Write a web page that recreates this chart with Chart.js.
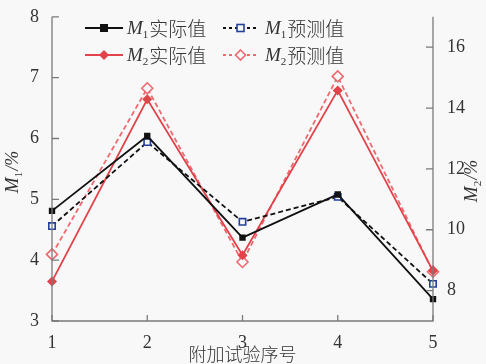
<!DOCTYPE html>
<html>
<head>
<meta charset="utf-8">
<script src="https://cdn.jsdelivr.net/npm/chart.js@4"></script>
<style>
  body { margin: 0; background: #f8f8f8; }
  #box { width: 486px; height: 364px; }
</style>
</head>
<body>
<div id="box"><canvas id="myChart"></canvas></div>
<script>
// data
const trials = ['1', '2', '3', '4', '5'];
const m1Actual = [4.81, 6.04, 4.37, 5.08, 3.36];
const m1Pred = [4.56, 5.94, 4.63, 5.04, 3.61];
const m2Actual = [8.30, 14.29, 9.16, 14.58, 8.65];
const m2Pred = [9.19, 14.65, 8.94, 15.04, 8.62];
const leftTicks = [3, 4, 5, 6, 7, 8];
const rightTicks = [8, 10, 12, 14, 16];

const serif = "'Times New Roman', 'Liberation Serif', 'DejaVu Serif', serif";
const cjk = "'Noto Sans CJK SC', sans-serif";
const axisColor = '#7a7a7a';
const red = '#e2434b';
const redLight = '#ee6a70';

// label like  M_1实际值  (italic M, small subscript)
function drawLabel(ctx, x, y, sub, rest) {
    ctx.textBaseline = 'middle';
    ctx.textAlign = 'left';
    ctx.fillStyle = '#333';
    ctx.font = 'italic 19px ' + serif;
    ctx.fillText('M', x, y);
    x += ctx.measureText('M').width;
    ctx.font = '11px ' + serif;
    ctx.fillText(sub, x, y + 6);
    x += ctx.measureText(sub).width + 1;
    if (rest === '/%') {
        ctx.font = 'italic 18px ' + serif;
    } else {
        ctx.font = '300 19px ' + cjk;
    }
    ctx.fillText(rest, x, y);
}

function labelWidth(ctx, sub, rest) {
    ctx.font = 'italic 19px ' + serif;
    let w = ctx.measureText('M').width;
    ctx.font = '11px ' + serif;
    w += ctx.measureText(sub).width + 1;
    ctx.font = 'italic 18px ' + serif;
    w += ctx.measureText(rest).width;
    return w;
}

function drawMarker(ctx, type, x, y) {
    ctx.save();
    ctx.setLineDash([]);
    if (type === 'sq') {
        ctx.fillStyle = '#111';
        ctx.fillRect(x - 4, y - 4, 8, 8);
    } else if (type === 'sqo') {
        ctx.fillStyle = '#f8f8f8';
        ctx.fillRect(x - 3.5, y - 3.5, 7, 7);
        ctx.strokeStyle = '#23409a';
        ctx.lineWidth = 1.6;
        ctx.strokeRect(x - 3.5, y - 3.5, 7, 7);
    } else {
        ctx.beginPath();
        ctx.moveTo(x, y - 5);
        ctx.lineTo(x + 5, y);
        ctx.lineTo(x, y + 5);
        ctx.lineTo(x - 5, y);
        ctx.closePath();
        if (type === 'dia') {
            ctx.fillStyle = red;
            ctx.fill();
        } else {
            ctx.fillStyle = '#f8f8f8';
            ctx.fill();
            ctx.strokeStyle = redLight;
            ctx.lineWidth = 1.6;
            ctx.stroke();
        }
    }
    ctx.restore();
}

const decor = {
    id: 'decor',
    afterDraw(chart) {
        const ctx = chart.ctx;
        const area = chart.chartArea;
        const xs = chart.scales.x;
        const yl = chart.scales.y;
        const yr = chart.scales.y2;
        ctx.save();

        // axis lines
        ctx.strokeStyle = axisColor;
        ctx.lineWidth = 1.3;
        ctx.beginPath();
        ctx.moveTo(area.left, area.top);
        ctx.lineTo(area.left, area.bottom);
        ctx.lineTo(area.right, area.bottom);
        ctx.lineTo(area.right, area.top);
        ctx.stroke();

        // inward tick marks
        ctx.beginPath();
        trials.forEach((t, i) => {
            const px = xs.getPixelForValue(i);
            ctx.moveTo(px, area.bottom);
            ctx.lineTo(px, area.bottom - 6);
        });
        leftTicks.forEach(v => {
            const py = yl.getPixelForValue(v);
            ctx.moveTo(area.left, py);
            ctx.lineTo(area.left + 7, py);
        });
        rightTicks.forEach(v => {
            const py = yr.getPixelForValue(v);
            ctx.moveTo(area.right, py);
            ctx.lineTo(area.right - 7, py);
        });
        ctx.stroke();

        // legend
        const rows = [
            { y: 28, x0: 85, x1: 123, text: 127, sub: '1', rest: '实际值', color: '#111', dash: [], mk: 'sq' },
            { y: 28, x0: 223, x1: 258, text: 265, sub: '1', rest: '预测值', color: '#111', dash: [3, 3], mk: 'sqo' },
            { y: 55, x0: 85, x1: 123, text: 127, sub: '2', rest: '实际值', color: red, dash: [], mk: 'dia' },
            { y: 55, x0: 223, x1: 258, text: 265, sub: '2', rest: '预测值', color: redLight, dash: [3, 3], mk: 'diao' }
        ];
        rows.forEach(r => {
            ctx.strokeStyle = r.color;
            ctx.lineWidth = 1.8;
            ctx.setLineDash(r.dash);
            ctx.beginPath();
            ctx.moveTo(r.x0, r.y);
            ctx.lineTo(r.x1, r.y);
            ctx.stroke();
            ctx.setLineDash([]);
            drawMarker(ctx, r.mk, (r.x0 + r.x1) / 2, r.y);
            drawLabel(ctx, r.text, r.y + 1, r.sub, r.rest);
        });

        // axis titles
        [[16, 172, '1'], [475, 181, '2']].forEach(t => {
            ctx.save();
            ctx.translate(t[0], t[1]);
            ctx.rotate(-Math.PI / 2);
            const w = labelWidth(ctx, t[2], '/%');
            drawLabel(ctx, -w / 2, -3, t[2], '/%');
            ctx.restore();
        });

        ctx.fillStyle = '#333';
        ctx.font = '300 18px ' + cjk;
        ctx.textAlign = 'center';
        ctx.textBaseline = 'middle';
        ctx.fillText('附加试验序号', (area.left + area.right) / 2, 354);
        ctx.restore();
    }
};

new Chart(document.getElementById('myChart'), {
    type: 'line',
    data: {
        labels: trials,
        datasets: [
            {
                label: 'M1实际值', data: m1Actual, yAxisID: 'y',
                borderColor: '#111', backgroundColor: '#111', borderWidth: 1.8,
                pointStyle: 'rect', pointRadius: 4.5, pointBorderWidth: 0
            },
            {
                label: 'M1预测值', data: m1Pred, yAxisID: 'y',
                borderColor: '#111', borderDash: [5, 3], borderWidth: 1.8,
                pointStyle: 'rect', pointRadius: 4.5, pointBorderWidth: 1.6,
                pointBorderColor: '#23409a', pointBackgroundColor: '#f8f8f8'
            },
            {
                label: 'M2实际值', data: m2Actual, yAxisID: 'y2',
                borderColor: red, backgroundColor: red, borderWidth: 1.8,
                pointStyle: 'rectRot', pointRadius: 5, pointBorderWidth: 0
            },
            {
                label: 'M2预测值', data: m2Pred, yAxisID: 'y2',
                borderColor: redLight, borderDash: [5, 3], borderWidth: 1.8,
                pointStyle: 'rectRot', pointRadius: 5.5, pointBorderWidth: 1.6,
                pointBorderColor: redLight, pointBackgroundColor: '#f8f8f8'
            }
        ]
    },
    options: {
        responsive: true,
        maintainAspectRatio: false,
        animation: false,
        layout: { padding: { top: 15 } },
        plugins: { legend: { display: false }, tooltip: { enabled: false } },
        scales: {
            x: {
                offset: false,
                grid: { display: false },
                border: { display: false },
                ticks: { color: '#333', padding: 3, font: { family: serif, size: 18 } },
                afterFit(s) { s.height = 43; }
            },
            y: {
                position: 'left', min: 3, max: 8,
                grid: { display: false },
                border: { display: false },
                ticks: { stepSize: 1, color: '#333', padding: 5, font: { family: serif, size: 18 } },
                afterBuildTicks(s) { s.ticks = leftTicks.map(v => ({ value: v })); },
                afterFit(s) { s.width = 52; }
            },
            y2: {
                position: 'right', min: 7, max: 17,
                grid: { display: false },
                border: { display: false },
                ticks: { color: '#333', padding: 6, font: { family: serif, size: 18 } },
                afterBuildTicks(s) { s.ticks = rightTicks.map(v => ({ value: v })); },
                afterFit(s) { s.width = 53; }
            }
        }
    },
    plugins: [decor]
});
</script>
</body>
</html>
